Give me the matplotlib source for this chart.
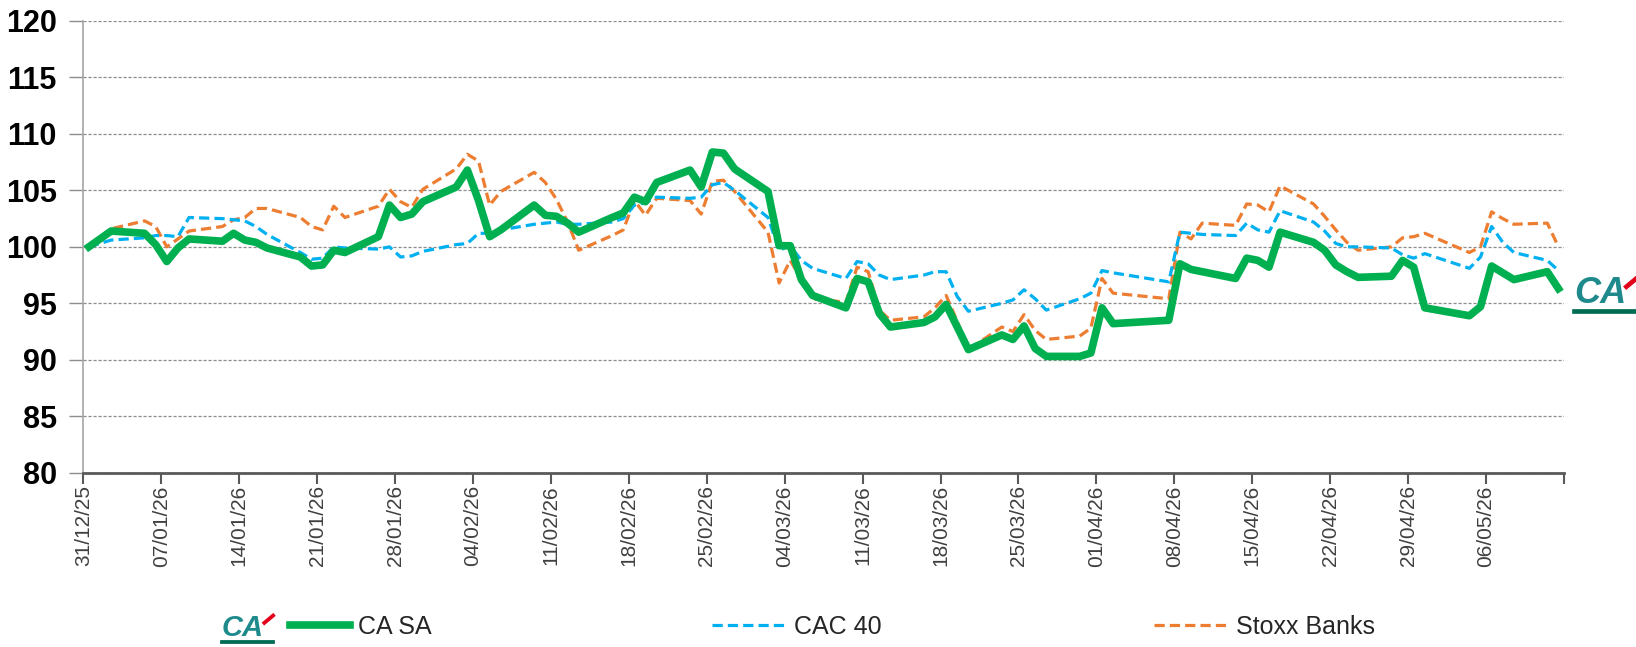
import matplotlib

matplotlib.use("Agg")
import matplotlib.pyplot as plt
from matplotlib.lines import Line2D
import pandas as pd

plt.rcParams["font.family"] = ["Liberation Sans", "DejaVu Sans"]

OUT_PNG = "out.png"

# trading days (01/01, 03/04, 06/04 and 01/05 are closed)
DATES = [
    "2025-12-31", "2026-01-02", "2026-01-05", "2026-01-06", "2026-01-07",
    "2026-01-08", "2026-01-09", "2026-01-12", "2026-01-13", "2026-01-14",
    "2026-01-15", "2026-01-16", "2026-01-19", "2026-01-20", "2026-01-21",
    "2026-01-22", "2026-01-23", "2026-01-26", "2026-01-27", "2026-01-28",
    "2026-01-29", "2026-01-30",
    "2026-02-02", "2026-02-03", "2026-02-04", "2026-02-05", "2026-02-06",
    "2026-02-09", "2026-02-10", "2026-02-11", "2026-02-12", "2026-02-13",
    "2026-02-16", "2026-02-17", "2026-02-18", "2026-02-19", "2026-02-20",
    "2026-02-23", "2026-02-24", "2026-02-25", "2026-02-26", "2026-02-27",
    "2026-03-02", "2026-03-03", "2026-03-04", "2026-03-05", "2026-03-06",
    "2026-03-09", "2026-03-10", "2026-03-11", "2026-03-12", "2026-03-13",
    "2026-03-16", "2026-03-17", "2026-03-18", "2026-03-19", "2026-03-20",
    "2026-03-23", "2026-03-24", "2026-03-25", "2026-03-26", "2026-03-27",
    "2026-03-30", "2026-03-31",
    "2026-04-01", "2026-04-02", "2026-04-07", "2026-04-08", "2026-04-09",
    "2026-04-10", "2026-04-13", "2026-04-14", "2026-04-15", "2026-04-16",
    "2026-04-17", "2026-04-20", "2026-04-21", "2026-04-22", "2026-04-23",
    "2026-04-24", "2026-04-27", "2026-04-28", "2026-04-29", "2026-04-30",
    "2026-05-04", "2026-05-05", "2026-05-06", "2026-05-07", "2026-05-08",
    "2026-05-11", "2026-05-12",
]

CA_SA = [
    100.0, 101.4, 101.2, 100.2, 98.7, 99.9, 100.7, 100.5, 101.2, 100.6,
    100.4, 99.9, 99.1, 98.3, 98.4, 99.7, 99.5, 100.9, 103.7, 102.6,
    102.9, 104.0,
    105.3, 106.8, 104.1, 100.9, 101.5, 103.7, 102.8, 102.7, 102.1, 101.3,
    102.6, 103.0, 104.4, 104.0, 105.7, 106.8, 105.3, 108.4, 108.3, 106.9,
    104.9, 100.1, 100.1, 97.1, 95.7, 94.6, 97.2, 96.9, 94.1, 92.9,
    93.3, 93.8, 94.9, 92.9, 90.9, 92.2, 91.8, 93.0, 91.0, 90.3,
    90.3, 90.6,
    94.6, 93.2, 93.5, 98.5, 98.0, 97.8, 97.2, 99.0, 98.8, 98.2,
    101.3, 100.4, 99.7, 98.4, 97.8, 97.3, 97.4, 98.8, 98.2, 94.6,
    93.9, 94.7, 98.3, 97.7, 97.1, 97.8, 96.3,
]

CAC_40 = [
    100.0, 100.6, 100.8, 101.0, 101.0, 100.9, 102.6, 102.5, 102.4, 102.3,
    101.8, 101.1, 99.5, 98.9, 99.0, 100.0, 99.9, 99.8, 100.0, 99.1,
    99.2, 99.6,
    100.2, 100.3, 101.2, 101.2, 101.5, 102.0, 102.1, 102.2, 102.0, 102.0,
    102.2, 102.5, 103.7, 103.9, 104.4, 104.3, 104.4, 105.5, 105.7, 105.0,
    102.6, 99.7, 100.1, 98.8, 98.1, 97.2, 98.7, 98.5, 97.5, 97.1,
    97.5, 97.8, 97.8, 95.6, 94.3, 95.0, 95.3, 96.2, 95.4, 94.4,
    95.4, 95.9,
    97.9, 97.7, 96.9, 101.3, 101.2, 101.1, 101.0, 102.1, 101.5, 101.3,
    103.2, 102.2, 101.4, 100.3, 100.0, 100.0, 99.9, 99.3, 99.0, 99.4,
    98.1, 99.1, 101.8, 100.4, 99.5, 98.8, 97.9,
]

STOXX_BANKS = [
    100.0, 101.6, 102.3, 101.8, 100.0, 100.7, 101.4, 101.8, 102.4, 102.6,
    103.4, 103.4, 102.6, 101.8, 101.5, 103.6, 102.6, 103.6, 105.1, 104.0,
    103.5, 105.1,
    106.9, 108.2, 107.6, 103.7, 104.9, 106.6, 105.7, 104.2, 102.2, 99.7,
    101.0, 101.5, 104.1, 102.8, 104.3, 104.1, 102.9, 105.8, 105.9, 104.9,
    101.3, 96.8, 98.8, 97.1, 95.4, 95.1, 98.2, 97.8, 94.4, 93.5,
    93.8, 94.6, 95.7, 93.4, 90.9, 92.9, 92.5, 94.0, 92.6, 91.8,
    92.1, 92.8,
    97.2, 95.9, 95.4, 101.3, 100.7, 102.1, 101.9, 103.8, 103.7, 103.1,
    105.4, 103.8, 102.7, 101.5, 100.4, 99.7, 100.0, 100.8, 100.9, 101.2,
    99.5, 100.0, 103.1, 102.5, 102.0, 102.1, 100.0,
]

AXIS_START = "2025-12-31"
AXIS_END = "2026-05-13"
Y_TICKS = [80, 85, 90, 95, 100, 105, 110, 115, 120]

GREEN = "#00B050"
BLUE = "#00B0F0"
ORANGE = "#ED7D31"
LOGO_TEAL = "#1F8A8C"
LOGO_GREEN = "#006B54"
LOGO_RED = "#E2001A"

W, H = 1636, 647


def draw_logo(fig, x_px, y_px, size):
    # rough stand-in for the bank's "CA" mark
    fig.text(x_px / W, 1 - y_px / H, "CA", fontsize=size, fontweight="bold",
             fontstyle="italic", color=LOGO_TEAL, ha="left", va="baseline")
    u = size * 1.39
    fig.add_artist(Line2D([x_px / W, (x_px + 1.75 * u) / W],
                          [1 - (y_px + 0.22 * u) / H] * 2,
                          color=LOGO_GREEN, lw=size * 0.13,
                          transform=fig.transFigure))
    fig.add_artist(Line2D([(x_px + 1.45 * u) / W, (x_px + 1.75 * u) / W],
                          [1 - (y_px - 0.45 * u) / H, 1 - (y_px - 0.7 * u) / H],
                          color=LOGO_RED, lw=size * 0.13,
                          transform=fig.transFigure))


def main():
    x = pd.to_datetime(DATES) + pd.Timedelta(hours=12)

    fig = plt.figure(figsize=(W / 100, H / 100), dpi=100)
    left, right, top, bottom = 83.3, 1564.0, 21.0, 472.7
    ax = fig.add_axes([left / W, 1 - bottom / H, (right - left) / W, (bottom - top) / H])

    l_stoxx, = ax.plot(x, STOXX_BANKS, color=ORANGE, lw=2.3, dashes=(3.2, 1.6),
                       zorder=3)
    l_cac, = ax.plot(x, CAC_40, color=BLUE, lw=2.3, dashes=(3.2, 1.6), zorder=3)
    l_ca, = ax.plot(x, CA_SA, color=GREEN, lw=5.5, zorder=4)

    start, end = pd.Timestamp(AXIS_START), pd.Timestamp(AXIS_END)
    ax.set_xlim(start, end)
    ax.set_ylim(Y_TICKS[0], Y_TICKS[-1])
    ax.set_yticks(Y_TICKS)

    ticks = pd.date_range(start, end, freq="7D")
    ax.set_xticks(ticks)
    labels = [t.strftime("%d/%m/%y") for t in ticks]
    labels[-1] = ""
    ax.set_xticklabels(labels, rotation=90, fontsize=15, color="#404040")

    for lab in ax.get_yticklabels():
        lab.set_fontweight("bold")
    ax.tick_params(axis="y", labelsize=22, length=10, width=1,
                   color="#8C8C8C", pad=9)
    ax.tick_params(axis="x", length=8, width=1.5, color="#595959", pad=1)

    ax.yaxis.grid(True, color="#8C8C8C", lw=0.9, linestyle=(0, (2.5, 1.5)))
    ax.set_axisbelow(True)

    for side in ("top", "right"):
        ax.spines[side].set_visible(False)
    ax.spines["left"].set_color("#A6A6A6")
    ax.spines["left"].set_linewidth(1.2)
    ax.spines["bottom"].set_color("#595959")
    ax.spines["bottom"].set_linewidth(2)
    ax.spines["bottom"].set_zorder(5)

    # one legend per entry so each sits where the original put it
    entries = [
        (l_ca, "CA SA", 290, 2.4),
        (l_cac, "CAC 40", 712, 3.0),
        (l_stoxx, "Stoxx Banks", 1154, 3.0),
    ]
    for handle, name, x_px, hlen in entries:
        leg = fig.legend([handle], [name], loc="center left",
                         bbox_to_anchor=(x_px / W, 1 - 627 / H),
                         frameon=False, handlelength=hlen, handletextpad=0.3,
                         borderpad=0, borderaxespad=0,
                         prop={"size": 18})
        leg.get_texts()[0].set_color("#262626")

    draw_logo(fig, 222, 636, 21)
    draw_logo(fig, 1574, 303, 26)

    fig.savefig(OUT_PNG, dpi=100)
    plt.close(fig)


if __name__ == "__main__":
    main()
